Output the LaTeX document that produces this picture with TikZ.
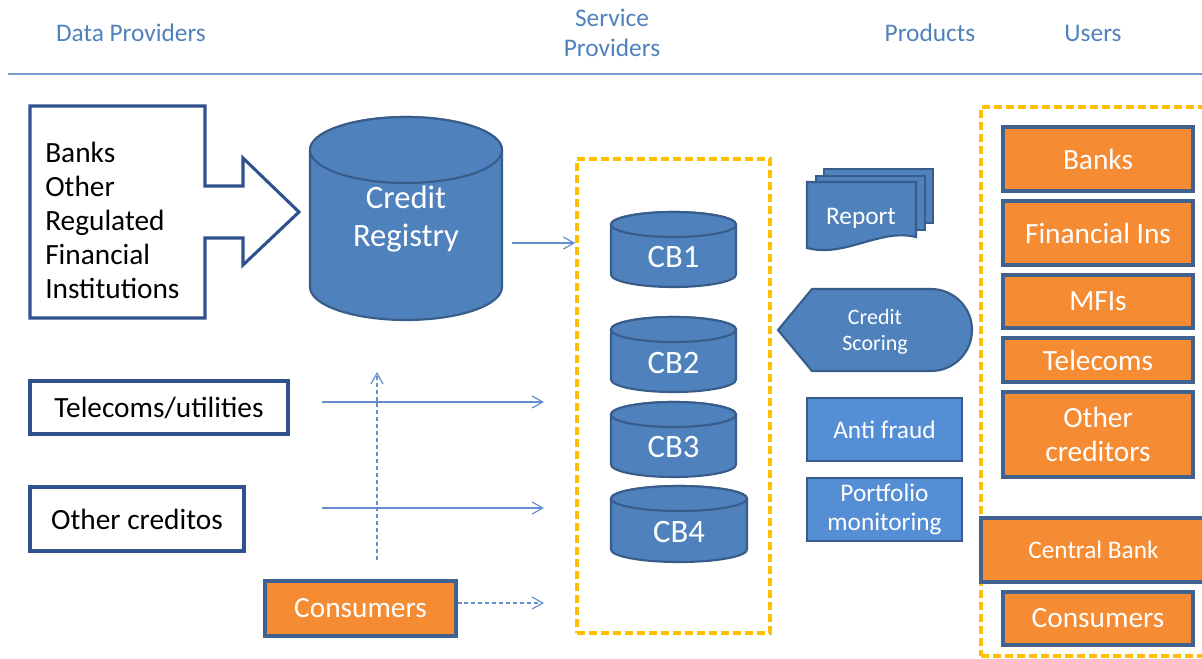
\documentclass[tikz,border=0pt]{standalone}
\usepackage{fontspec}
\setmainfont{Carlito}
\usepackage{xcolor}
\usepackage{tikz}
\usetikzlibrary{calc}
\usetikzlibrary{arrows.meta}
\definecolor{hdrblue}{RGB}{79,129,189}
\definecolor{hdrline}{RGB}{122,155,205}
\definecolor{cylfill}{RGB}{79,129,189}
\definecolor{cylline}{RGB}{56,93,138}
\definecolor{boxline}{RGB}{47,82,143}
\definecolor{lightfill}{RGB}{85,142,213}
\definecolor{orng}{RGB}{245,139,51}
\definecolor{usrline}{RGB}{65,98,142}
\definecolor{yel}{RGB}{255,192,0}
\definecolor{arrblue}{RGB}{100,142,206}
\tikzset{
	hdr/.style={text=hdrblue,font=\fontsize{19}{22.5}\selectfont,align=center},
	srcline/.style={draw=boxline,line width=2.3pt,fill=white},
	srcbox/.style={srcline,inner sep=0pt,font=\fontsize{22}{25.5}\selectfont},
	usrbox/.style={draw=usrline,line width=2.3pt,fill=orng,text=white,inner sep=0pt,minimum width=142.5pt,font=\fontsize{22}{25.5}\selectfont,align=center},
	cylpart/.style={draw=cylline,line width=1.6pt,fill=cylfill},
	cyltext/.style={text=white,font=\fontsize{24.5}{29}\selectfont,align=center,inner sep=0pt},
	prodtext/.style={text=white,font=\fontsize{19}{22}\selectfont,align=center,inner sep=0pt},
	prodbox/.style={draw=cylline,line width=1.6pt,fill=lightfill,prodtext,minimum width=116.25pt,minimum height=47.25pt},
	flow/.style={draw=arrblue,line width=0.9pt,-{Straight Barb[length=8pt,width=9pt]}},
	dflow/.style={flow,dash pattern=on 3pt off 2.2pt},
	yframe/.style={draw=yel,line width=2.6pt,dash pattern=on 6pt off 3pt,inner sep=0pt}
}
% name, cx, top, bottom, rx, ry, text y, text
\newcommand{\cyl}[8]{%
	\draw[cylpart] (#2-#5,-#3-#6) -- (#2-#5,-#4+#6) arc (180:360:#5 and #6) -- (#2+#5,-#3-#6) arc (0:180:#5 and #6) -- cycle;
	\draw[cylpart] (#2,-#3-#6) ellipse (#5 and #6);
	\node[cyltext] (#1) at (#2,-#7) {#8};
}

\begin{document}
\begin{tikzpicture}[x=0.75pt,y=0.75pt]
	\useasboundingbox (0,0) rectangle (1202,-658);
	\clip (0,0) rectangle (1202,-658);
	% headings
	\node[hdr] (hdata) at (131,-33) {Data Providers};
	\node[hdr] (hserv) at (612,-33) {Service\\Providers};
	\node[hdr] (hprod) at (930,-33) {Products};
	\node[hdr] (husr) at (1093,-33) {Users};
	\draw[hdrline,line width=1.3pt] (8,-74) -- (1202,-74);

	% data providers
	\draw[srcline] (30,-106) -- (205,-106) -- (205,-186) -- (243,-186) -- (243,-158) -- (299,-212) -- (243,-265) -- (243,-238) -- (205,-238) -- (205,-318) -- (30,-318) -- cycle;
	\node[font=\fontsize{22}{25.5}\selectfont,align=left,anchor=west,inner sep=0pt] (regd) at (45,-220) {Banks\\Other\\Regulated\\Financial\\Institutions};
	\node[srcbox,minimum width=193.5pt,minimum height=39.75pt] (tel) at (159,-407.5) {Telecoms/utilities};
	\node[srcbox,minimum width=160.5pt,minimum height=48pt] (othc) at (137,-519) {Other creditos};
	\node[usrbox,minimum width=143.25pt,minimum height=41.25pt] (cons) at (360.5,-608.5) {Consumers};

	% credit registry and bureaus
	\cyl{reg}{406}{117}{320}{96}{33}{219}{Credit\\Registry}
	\node[yframe,minimum width=144.75pt,minimum height=355.5pt] (sp) at (673.5,-396) {};
	\cyl{cb1}{673.5}{212}{287}{62.5}{12.5}{257}{CB1}
	\cyl{cb2}{673.5}{317}{392}{62.5}{12.5}{363}{CB2}
	\cyl{cb3}{673.5}{402}{477}{62.5}{12.5}{447}{CB3}
	\cyl{cb4}{679}{486}{562}{68}{12.5}{532}{CB4}

	% flows
	\coordinate (regout) at (512,-243);
	\draw[flow] (regout) -- (regout -| sp.west);
	\coordinate (telout) at (322,-402);
	\coordinate (telin) at (544,-402);
	\draw[flow] (telout) -- (telin);
	\coordinate (othout) at (322,-508);
	\coordinate (othin) at (544,-508);
	\draw[flow] (othout) -- (othin);
	\coordinate (consin) at (544,-603);
	\draw[dflow] (cons.east |- consin) -- (consin);
	\coordinate (up0) at (377,-560);
	\coordinate (up1) at (377,-372);
	\draw[dflow] (up0) -- (up1);

	% products
	\draw[cylpart] (824,-169) rectangle (933,-223);
	\draw[cylpart] (816,-176) rectangle (925,-230);
	\draw[cylpart] (807,-182) -- (916,-182) -- (916,-237) .. controls (880,-228) and (845,-258) .. (807,-248) -- cycle;
	\node[prodtext] (rep) at (861,-218) {Report};
	\draw[cylpart] (778,-330) -- (812,-289) -- (931,-289) arc (90:-90:41) -- (812,-371) -- cycle;
	\node[prodtext,font=\fontsize{16.5}{19.5}\selectfont] (score) at (875,-332) {Credit\\Scoring};
	\node[prodbox] (fraud) at (884.5,-429.5) {Anti fraud};
	\node[prodbox] (port) at (884.5,-509.5) {Portfolio\\monitoring};

	% users
	\node[yframe,minimum width=175.5pt,minimum height=411.75pt] (us) at (1098,-381.5) {};
	\node[usrbox,minimum height=48pt] (ubank) at (1098,-159) {Banks};
	\node[usrbox,minimum height=48pt] (ufin) at (1098,-233) {Financial Ins};
	\node[usrbox,minimum height=39.75pt] (umfi) at (1098,-301.5) {MFIs};
	\node[usrbox,minimum height=33pt] (utel) at (1098,-360) {Telecoms};
	\node[usrbox,minimum height=63.75pt] (uoth) at (1098,-434.5) {Other\\creditors};
	\node[usrbox,minimum width=168.75pt,minimum height=48pt,font=\fontsize{19}{22}\selectfont] (ucb) at (1093.5,-550) {Central Bank};
	\node[usrbox,minimum height=39.75pt] (ucons) at (1098,-618.5) {Consumers};
\end{tikzpicture}
\end{document}
